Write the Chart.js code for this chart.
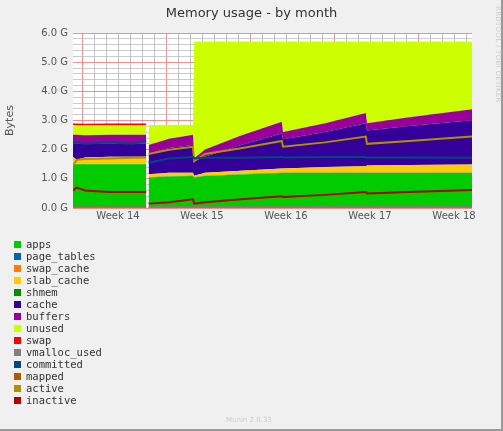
<!DOCTYPE html>
<html><head><meta charset="utf-8">
<script src="https://cdn.jsdelivr.net/npm/chart.js@4/dist/chart.umd.min.js"></script>
<style>
body{margin:0;background:#f0f0f0;width:503px;height:431px;overflow:hidden;font-family:"DejaVu Sans Mono",monospace;}
#wrap{position:absolute;left:0;top:0;width:501px;height:429px;border-right:2px solid #999;border-bottom:2px solid #999;}
canvas{position:absolute;left:0;top:0;}
#title{position:absolute;top:5px;left:0;width:503px;text-align:center;font:13px "DejaVu Sans";color:#333;}
#rrd{position:absolute;left:494px;top:6px;font:7px "DejaVu Sans";color:#ccc;writing-mode:vertical-rl;letter-spacing:0.3px;}
#leg{position:absolute;left:0;top:226px;font:10.5px "DejaVu Sans Mono";color:#333;}
.r{position:absolute;white-space:pre;}
.sw{position:absolute;width:7px;height:7px;}
#munin{position:absolute;left:226px;top:416px;font:7px "DejaVu Sans";color:#ccc;}
</style></head><body>
<div id="wrap"></div>
<canvas id="c" width="503" height="431"></canvas>
<div id="title">Memory usage - by month</div>
<div id="rrd">RRDTOOL / TOBI OETIKER</div>
<div id="leg"></div>
<div id="munin">Munin 2.0.33</div>
<script>
// time in days (week ticks at 0,7,14,...)
const days = [-3.75,-3.45,-2.75,-0.75,1.25,2.35,2.45,2.55,4.25,6.25,6.35,7.25,10.25,13.65,13.75,17.25,20.65,20.75,24.25,29.5];
const weekLabels = ["Week 14","Week 15","Week 16","Week 17","Week 18"];
const apps       = [1.5,1.5,1.5,1.5,1.5,1.5,null,1.05,1.08,1.1,1.05,1.1,1.15,1.2,1.2,1.2,1.2,1.2,1.2,1.2];
const pageTables = [0.008,0.008,0.008,0.008,0.008,0.008,null,0.008,0.008,0.008,0.008,0.008,0.008,0.008,0.008,0.008,0.008,0.008,0.008,0.008];
const swapCache  = [0,0,0,0,0,0,null,0,0,0,0,0,0,0,0,0,0,0,0,0];
const slabCache  = [0.25,0.15,0.22,0.25,0.25,0.25,null,0.1,0.12,0.1,0.05,0.1,0.12,0.15,0.15,0.2,0.22,0.25,0.27,0.28];
const shmem      = [0.0001,0.0001,0.0001,0.0001,0.0001,0.0001,null,0.0001,0.0001,0.0001,0.0001,0.0001,0.0001,0.0001,0.0001,0.0001,0.0001,0.0001,0.0001,0.0001];
const cache      = [0.45,0.55,0.47,0.45,0.45,0.45,null,0.7,0.85,0.95,0.5,0.55,0.88,1.2,1.0,1.2,1.48,1.2,1.33,1.52];
const buffers    = [0.3,0.3,0.3,0.3,0.3,0.3,null,0.3,0.32,0.35,0.1,0.25,0.33,0.4,0.25,0.3,0.35,0.25,0.3,0.38];
const unused     = [0.34,0.34,0.34,0.34,0.34,0.34,null,0.69,0.48,0.35,3.99,3.7,3.22,2.75,3.1,2.8,2.45,2.8,2.6,2.32];
const swap       = [0.05,0.05,0.05,0.05,0.05,0.05,null,0,0,0,0,0,0,0,0,0,0,0,0,0];
const vmalloc    = [0.018,0.018,0.018,0.02,0.02,0.02,null,0.022,0.023,0.023,0.024,0.024,0.024,0.025,0.025,0.025,0.025,0.025,0.025,0.026];
const committed  = [2.2,2.25,2.2,2.25,2.2,2.3,null,1.55,1.7,1.75,1.7,1.72,1.72,1.75,1.73,1.75,1.75,1.73,1.73,1.72];
const mapped     = [0.015,0.015,0.015,0.015,0.015,0.015,null,0.015,0.015,0.015,0.015,0.015,0.015,0.015,0.015,0.015,0.015,0.015,0.015,0.015];
const active     = [1.45,1.65,1.68,1.7,1.72,1.73,null,1.85,2.0,2.1,1.6,1.85,2.05,2.3,2.1,2.25,2.45,2.2,2.3,2.45];
const inactive   = [0.6,0.7,0.6,0.55,0.55,0.55,null,0.15,0.2,0.3,0.15,0.2,0.3,0.4,0.38,0.45,0.55,0.5,0.55,0.62];

const legendRows = [
 ["apps","#00CC00","1.20G","1003.57M","1.22G","1.51G"],
 ["page_tables","#0066B3","7.89M","6.85M","8.32M","11.25M"],
 ["swap_cache","#FF8000","0.00","0.00","11.76M","62.63M"],
 ["slab_cache","#FFCC00","275.83M","40.41M","190.39M","276.27M"],
 ["shmem","#008F00","124.00k","124.00k","124.03k","128.00k"],
 ["cache","#330099","1.54G","448.61M","1.02G","1.64G"],
 ["buffers","#990099","353.46M","27.40M","268.92M","353.48M"],
 ["unused","#CCFF00","2.33G","52.90M","2.13G","3.92G"],
 ["swap","#FF0000","0.00","0.00","17.76M","95.43M"],
 ["vmalloc_used","#808080","25.67M","17.98M","23.41M","25.67M"],
 ["committed","#00487D","1.71G","1.55G","1.79G","2.56G"],
 ["mapped","#B35A00","14.99M","10.68M","14.40M","22.11M"],
 ["active","#B38F00","2.42G","1003.57M","2.07G","2.47G"],
 ["inactive","#B30000","615.37M","86.81M","400.39M","891.47M"]];

const leg=document.getElementById('leg');
let h='';
[["Cur:",200],["Min:",287],["Avg:",383],["Max:",475]].forEach(([t,x])=>{h+=`<div class="r" style="top:0;right:${503-x}px">${t}</div>`});
legendRows.forEach((r,i)=>{const y=12+i*12;
 h+=`<div class="sw" style="left:14px;top:${y+3}px;background:${r[1]}"></div><div class="r" style="left:26px;top:${y}px">${r[0]}</div>`;
 [200,297,392,488].forEach((x,j)=>{h+=`<div class="r" style="top:${y}px;right:${503-x}px">${r[j+2]}</div>`});});
h+=`<div class="r" style="top:180px;right:15px">Last update: Sat May  3 02:00:10 2025</div>`;
leg.innerHTML=h;

function pts(a){return a.map((v,i)=>({x:days[i],y:v}));}
const areas=[["apps",apps,"#00CC00"],["page_tables",pageTables,"#0066B3"],["swap_cache",swapCache,"#FF8000"],["slab_cache",slabCache,"#FFCC00"],["shmem",shmem,"#008F00"],["cache",cache,"#330099"],["buffers",buffers,"#990099"],["unused",unused,"#CCFF00"],["swap",swap,"#FF0000"]];
const lines=[["vmalloc_used",vmalloc,"#808080"],["committed",committed,"#00487D"],["mapped",mapped,"#B35A00"],["active",active,"#B38F00"],["inactive",inactive,"#B30000"]];
const ds=[];
areas.forEach(([n,d,c],i)=>ds.push({label:n,data:pts(d),backgroundColor:c,borderColor:c,borderWidth:0,fill:i?'-1':'origin',stack:'m',pointRadius:0,tension:0,order:2}));
lines.forEach(([n,d,c])=>ds.push({label:n,data:pts(d),borderColor:c,borderWidth:2,fill:false,stack:n,pointRadius:0,tension:0,order:1}));

const bg={id:'bg',beforeDraw(ch){const {ctx,chartArea:a}=ch;ctx.save();ctx.fillStyle='#fff';ctx.fillRect(a.left,a.top,a.right-a.left,a.bottom-a.top);ctx.restore();}};
new Chart(document.getElementById('c'),{type:'line',data:{datasets:ds},plugins:[bg],
 options:{responsive:false,animation:false,layout:{padding:{top:33,right:31,bottom:205,left:0}},
  plugins:{legend:{display:false},tooltip:{enabled:false}},
  scales:{
   x:{type:'linear',min:-3.75,max:29.5,afterFit:s=>{s.height=18},
      afterBuildTicks:s=>{const t=[];for(let v=-3;v<=29;v++)t.push({value:v});s.ticks=t;},
      ticks:{autoSkip:false,maxRotation:0,font:{family:'DejaVu Sans',size:10},color:'#555',padding:2,
        callback:v=>(v>=0&&v%7===0)?weekLabels[v/7]:''},
      grid:{color:c=>((c.tick&&((c.tick.value+3)%7===0))?'rgba(230,120,120,0.8)':'rgba(180,180,180,0.8)'),borderDash:[1,2],drawTicks:false},border:{display:false}},
   y:{stacked:true,min:0,max:6,afterFit:s=>{s.width=73},
      afterBuildTicks:s=>{const t=[];for(let v=0;v<=30;v++)t.push({value:v/5});s.ticks=t;},
      ticks:{autoSkip:false,font:{family:'DejaVu Sans',size:10},color:'#555',padding:5,
        callback:v=>Math.abs(v-Math.round(v))<1e-6?v.toFixed(1)+' G':''},
      title:{display:true,text:'Bytes',font:{family:'DejaVu Sans',size:11},color:'#555'},
      grid:{color:c=>(c.tick&&Math.abs(c.tick.value-Math.round(c.tick.value))<1e-6)?'rgba(230,120,120,0.8)':'rgba(190,190,190,0.8)',borderDash:[1,2],drawTicks:false},border:{display:false}}
  }}});
</script></body></html>
